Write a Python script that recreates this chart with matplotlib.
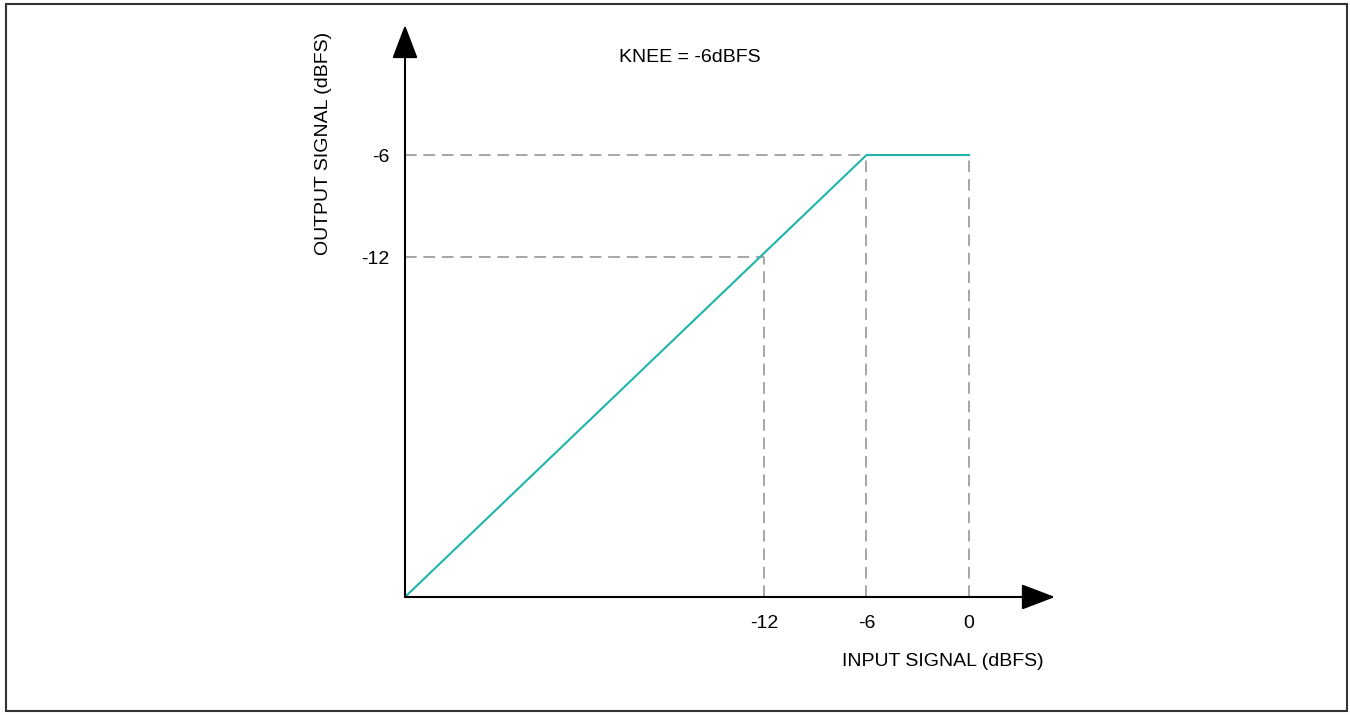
import matplotlib
matplotlib.use("Agg")
import matplotlib.pyplot as plt
from matplotlib.patches import Rectangle

plt.rcParams['font.family'] = ['Liberation Sans Narrow', 'Liberation Sans', 'DejaVu Sans']

# transfer curve (schematic)
input_db = [-33, -6, 0]
output_db = [-32, -6, -6]
x_ticks = [-12, -6, 0]
y_ticks = [-12, -6]
x_lim = (-33, 5.03)
y_lim = (-32, 1.65)
knee = -6
teal = "#1fb5a9"
grey = "#a6a6a6"
fs = 14

W, H = 1350, 715
fig = plt.figure(figsize=(W / 100, H / 100), dpi=100)
# axes placed so the origin lands at (405, 597) px
ax = fig.add_axes([405 / W, (H - 597) / H, 650 / W, 572 / H])
ax.set_xlim(x_lim)
ax.set_ylim(y_lim)
for s in ax.spines.values():
    s.set_visible(False)
ax.patch.set_alpha(0)

# dashed guides
dash = dict(color=grey, lw=1.4, dashes=(6, 3.5))
ax.plot([x_lim[0], 0], [knee, knee], **dash)
ax.plot([x_lim[0], -12], [-12, -12], **dash)
for xv, yt in [(-12, -12), (-6, knee), (0, knee)]:
    ax.plot([xv, xv], [y_lim[0], yt], **dash)

ax.plot(input_db, output_db, color=teal, lw=1.5)

# axes with arrow heads
arr = dict(arrowstyle="-|>,head_length=0.42,head_width=0.16", mutation_scale=50,
           color="black", lw=1.5, shrinkA=0, shrinkB=0)
ax.annotate("", xy=(x_lim[1], y_lim[0]), xytext=(x_lim[0], y_lim[0]), arrowprops=arr)
ax.annotate("", xy=(x_lim[0], y_lim[1]), xytext=(x_lim[0], y_lim[0]), arrowprops=arr)

ax.set_xticks(x_ticks)
ax.set_xticklabels([str(v) for v in x_ticks])
ax.set_yticks(y_ticks)
ax.set_yticklabels([str(v) for v in y_ticks])
ax.tick_params(length=0, labelsize=fs)
ax.tick_params(axis="x", pad=13)
ax.tick_params(axis="y", pad=11)

fig.text(943 / W, 1 - 662 / H, "INPUT SIGNAL (dBFS)", fontsize=fs, ha="center", va="center")
fig.text(324 / W, 1 - 143 / H, "OUTPUT SIGNAL (dBFS)", fontsize=fs, ha="center", va="center",
         rotation=90)
fig.text(690 / W, 1 - 57 / H, "KNEE = -6dBFS", fontsize=fs, ha="center", va="center")

fig.patches.append(Rectangle((6 / W, 4 / H), 1341 / W, 707 / H, transform=fig.transFigure,
                             fill=False, edgecolor="#333333", lw=1.5))

fig.savefig("out.png", dpi=100)
